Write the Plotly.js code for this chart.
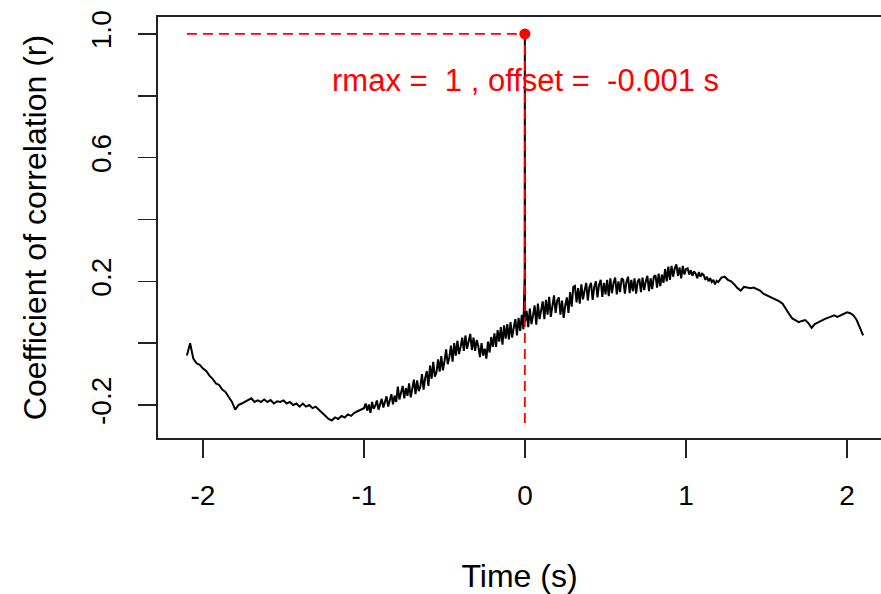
<!DOCTYPE html>
<html>
<head>
<meta charset="utf-8">
<script src="https://cdn.plot.ly/plotly-3.0.1.min.js"></script>
<style>html,body{margin:0;padding:0;background:#fff;}#chart{width:881px;height:594px;}</style>
</head>
<body>
<div id="chart"></div>
<script>
// Segment A: lag -2.10 .. -1.00, step 0.02
const segAStart = -2.10, segAStep = 0.02;
const segAR = [
  -0.04, 0.0, -0.05, -0.065, -0.07, -0.082,
  -0.09, -0.105, -0.115, -0.13, -0.135, -0.15, -0.158, -0.175, -0.19, -0.215,
  -0.20, -0.195, -0.19, -0.185, -0.178, -0.19, -0.185, -0.19, -0.182, -0.19,
  -0.184, -0.195, -0.188, -0.19, -0.185, -0.195, -0.19, -0.2, -0.195, -0.205,
  -0.195, -0.205, -0.2, -0.21, -0.205, -0.215, -0.225, -0.235, -0.245, -0.25,
  -0.24, -0.245, -0.235, -0.24, -0.23, -0.235, -0.225, -0.22, -0.215, -0.21
];
// Segment B: lag -0.99 .. 1.20, step 0.01
const segBStart = -0.99, segBStep = 0.01;
const segBR = [
  -0.195, -0.218, -0.198, -0.225, -0.19, -0.212, -0.202, -0.185, -0.215, -0.195,
  -0.18, -0.208, -0.19, -0.172, -0.205, -0.182, -0.165, -0.198, -0.17, -0.19,
  -0.14, -0.182, -0.158, -0.138, -0.178, -0.145, -0.17, -0.13, -0.175, -0.148,
  -0.118, -0.165, -0.12, -0.155, -0.14, -0.1, -0.15, -0.112, -0.09, -0.138,
  -0.072, -0.115, -0.06, -0.108, -0.095, -0.052, -0.092, -0.042, -0.088, -0.058,
  -0.02, -0.068, -0.045, -0.008, -0.06, 0.0, -0.04, 0.008, -0.035, -0.012,
  0.018, -0.025, 0.025, -0.018, 0.008, 0.03, -0.022, 0.018, -0.025, 0.01,
  -0.01, -0.045, 0.0, -0.04, -0.018, -0.05, 0.005, -0.03, 0.02, -0.012,
  0.032, -0.012, 0.042, 0.005, 0.052, -0.005, 0.058, 0.015, 0.062, 0.012,
  0.068, 0.018, 0.05, 0.078, 0.025, 0.082, 0.04, 0.092, 0.045, 0.068,
  0.105, 0.052, 0.112, 0.062, 0.09, 0.122, 0.06, 0.128, 0.078, 0.108,
  0.135, 0.078, 0.14, 0.092, 0.15, 0.085, 0.122, 0.155, 0.098, 0.138,
  0.148, 0.092, 0.138, 0.082, 0.122, 0.148, 0.098, 0.165, 0.118, 0.182,
  0.185, 0.132, 0.178, 0.128, 0.19, 0.142, 0.17, 0.195, 0.138, 0.182,
  0.195, 0.14, 0.182, 0.2, 0.148, 0.19, 0.205, 0.15, 0.195, 0.158,
  0.205, 0.152, 0.21, 0.162, 0.195, 0.212, 0.158, 0.2, 0.165, 0.21,
  0.205, 0.16, 0.198, 0.215, 0.162, 0.205, 0.168, 0.21, 0.16, 0.2,
  0.208, 0.165, 0.212, 0.172, 0.2, 0.218, 0.168, 0.21, 0.175, 0.215,
  0.22, 0.18, 0.225, 0.185, 0.222, 0.195, 0.24, 0.2, 0.248, 0.205,
  0.25, 0.215, 0.242, 0.255, 0.218, 0.245, 0.21, 0.25, 0.222, 0.24,
  0.242, 0.222, 0.236, 0.218, 0.232, 0.225, 0.21, 0.23, 0.215, 0.225,
  0.22, 0.205, 0.215, 0.2, 0.21, 0.198, 0.205, 0.19, 0.202, 0.198
];
// Segment C: lag 1.22 .. 2.10, step 0.02
const segCStart = 1.22, segCStep = 0.02;
const segCR = [
  0.212, 0.215, 0.205, 0.20, 0.19, 0.178, 0.17, 0.182, 0.18, 0.178,
  0.18, 0.176, 0.17, 0.16, 0.155, 0.152, 0.145, 0.14, 0.135, 0.128,
  0.11, 0.095, 0.08, 0.075, 0.068, 0.072, 0.075, 0.065, 0.05, 0.062,
  0.068, 0.072, 0.078, 0.082, 0.087, 0.09, 0.085, 0.09, 0.095, 0.10,
  0.097, 0.09, 0.075, 0.05, 0.025
];
// Spike near zero lag
const spikeLag = [-0.002, -0.001];
const spikeR = [0.225, 1.0];

// Result of the cross-correlation
const rmax = 1;
const offset = -0.001;
const lagMin = -2.1;
const rLow = -0.258;

const xTicks = [-2, -1, 0, 1, 2];
const yTicks = [-0.2, 0, 0.2, 0.4, 0.6, 0.8, 1.0];
const yTickText = ["-0.2", "", "0.2", "", "0.6", "", "1.0"];

// assemble the series
const pts = [];
function addSeg(start, step, vals) {
  vals.forEach((v, i) => pts.push([Math.round((start + i * step) * 1000) / 1000, v]));
}
addSeg(segAStart, segAStep, segAR);
addSeg(segBStart, segBStep, segBR);
addSeg(segCStart, segCStep, segCR);
spikeLag.forEach((l, i) => pts.push([l, spikeR[i]]));
pts.sort((a, b) => a[0] - b[0]);
const lag = pts.map(p => p[0]);
const r = pts.map(p => p[1]);

const FONT = "Liberation Sans, Arial, sans-serif";
const RED = "#ff0000";

const traces = [
  {x: lag, y: r, type: "scatter", mode: "lines", line: {color: "#000", width: 2}, hoverinfo: "skip"},
  {x: [lagMin, offset], y: [rmax, rmax], type: "scatter", mode: "lines", line: {color: RED, width: 1.8, dash: "10px,6px"}},
  {x: [offset, offset], y: [rLow, rmax], type: "scatter", mode: "lines", line: {color: RED, width: 1.8, dash: "10px,6px"}},
  {x: [offset], y: [rmax], type: "scatter", mode: "markers", marker: {color: RED, size: 11}}
];

const layout = {
  width: 881, height: 594,
  margin: {l: 158, r: 0, t: 17, b: 156, pad: 0},
  showlegend: false,
  paper_bgcolor: "#fff", plot_bgcolor: "#fff",
  font: {family: FONT, size: 28, color: "#000"},
  xaxis: {
    range: [-2.2795, 2.211], tickvals: xTicks, ticktext: xTicks.map(String),
    ticks: "outside", ticklen: 18, tickwidth: 1.5, tickcolor: "#222",
    showline: true, linecolor: "#222", linewidth: 1.8, mirror: true,
    showgrid: false, zeroline: false, ticklabelstandoff: 14,
    tickfont: {family: FONT, size: 28, color: "#000"},
    title: {text: "Time (s)", font: {family: FONT, size: 32, color: "#000"}, standoff: 54}
  },
  yaxis: {
    range: [-0.3065, 1.0548], tickvals: yTicks, ticktext: yTickText, tickangle: -90,
    ticks: "outside", ticklen: 18, tickwidth: 1.5, tickcolor: "#222",
    showline: true, linecolor: "#222", linewidth: 1.8, mirror: false,
    showgrid: false, zeroline: false, ticklabelstandoff: 16,
    tickfont: {family: FONT, size: 28, color: "#000"},
    title: {text: "Coefficient of correlation (r)", font: {family: FONT, size: 32, color: "#000"}, standoff: 30}
  },
  annotations: [{
    x: 0, y: 0.848, xref: "x", yref: "y", showarrow: false,
    text: "rmax =\u00a0\u00a01 , offset =\u00a0\u00a0-0.001 s",
    font: {family: FONT, size: 31, color: RED}, xanchor: "center", yanchor: "middle"
  }]
};

Plotly.newPlot("chart", traces, layout, {displayModeBar: false, staticPlot: true});
</script>
</body>
</html>
